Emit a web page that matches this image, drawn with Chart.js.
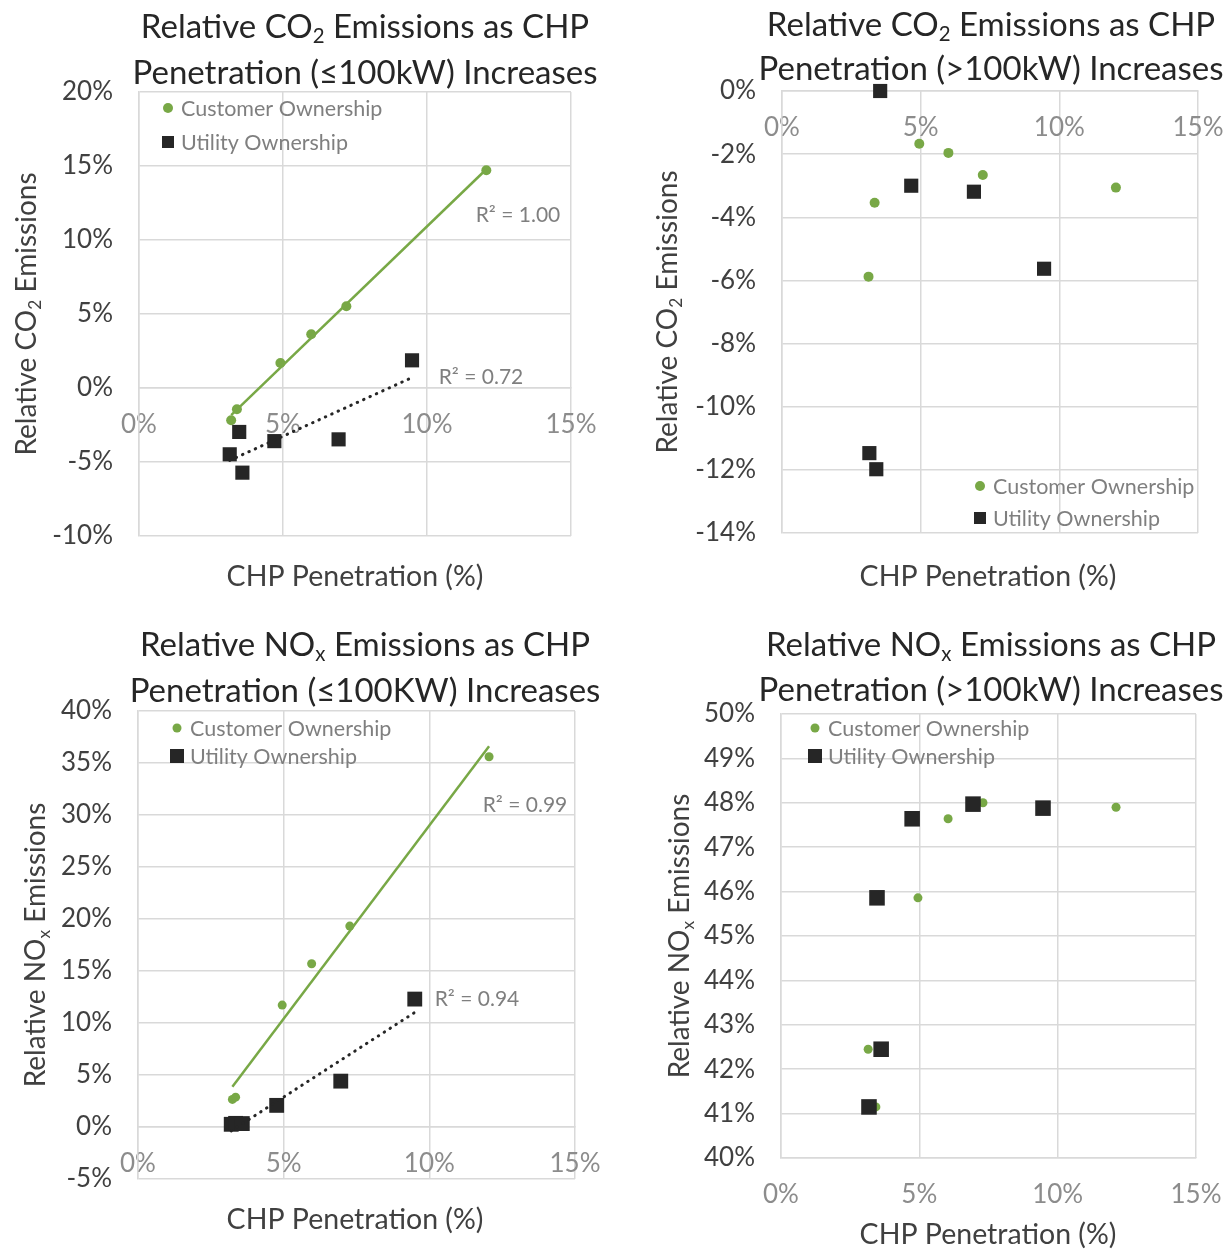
<!DOCTYPE html>
<html>
<head>
<meta charset="utf-8">
<script src="https://cdn.jsdelivr.net/npm/chart.js@4.4.1/dist/chart.umd.min.js"></script>
<style>
  body { margin: 0; background: #fff; width: 1230px; height: 1249px; position: relative; overflow: hidden; }
  canvas { position: absolute; }
</style>
</head>
<body>
<canvas id="co2Small" width="615" height="610" style="left:0;top:0"></canvas>
<canvas id="co2Large" width="615" height="610" style="left:615px;top:0"></canvas>
<canvas id="noxSmall" width="615" height="639" style="left:0;top:610px"></canvas>
<canvas id="noxLarge" width="615" height="639" style="left:615px;top:610px"></canvas>
<script>
// CO2, <=100kW
const co2SmallCustX = [3.20, 3.40, 4.91, 5.98, 7.20, 12.06];
const co2SmallCustY = [-2.18, -1.44, 1.69, 3.63, 5.52, 14.71];
const co2SmallUtilX = [3.15, 3.48, 3.59, 4.70, 6.93, 9.48];
const co2SmallUtilY = [-4.48, -2.97, -5.72, -3.59, -3.47, 1.87];
// CO2, >100kW
const co2LargeCustX = [3.12, 3.34, 4.95, 6.00, 7.24, 12.04];
const co2LargeCustY = [-5.88, -3.54, -1.67, -1.96, -2.66, -3.06];
const co2LargeUtilX = [3.54, 3.15, 3.40, 4.66, 6.92, 9.45];
const co2LargeUtilY = [0.0, -11.47, -11.98, -3.00, -3.19, -5.63];
// NOx, <=100kW
const noxSmallCustX = [3.24, 3.35, 4.95, 5.96, 7.27, 12.05];
const noxSmallCustY = [2.65, 2.87, 11.72, 15.7, 19.32, 35.6];
const noxSmallUtilX = [3.20, 3.35, 3.58, 4.76, 6.96, 9.50];
const noxSmallUtilY = [0.26, 0.35, 0.33, 2.08, 4.41, 12.30];
// NOx, >100kW
const noxLargeCustX = [3.15, 3.43, 4.95, 6.04, 7.30, 12.11];
const noxLargeCustY = [42.45, 41.15, 45.86, 47.64, 48.0, 47.9];
const noxLargeUtilX = [3.18, 3.62, 3.47, 4.74, 6.94, 9.47];
const noxLargeUtilY = [41.15, 42.45, 45.86, 47.64, 47.97, 47.88];

const xTicks = [0, 15, 5];          // min, max, step
const seriesNames = ['Customer Ownership', 'Utility Ownership'];
const r2Labels = ['R² = 1.00', 'R² = 0.72', 'R² = 0.99', 'R² = 0.94'];

const FONT = 'Lato, "Open Sans", sans-serif';
const GREEN = '#78a846';
const BLACK = '#262626';
const GRID = '#d9d9d9';

function pts(xs, ys) {
  return xs.map((x, i) => ({x: x, y: ys[i]}));
}

// least squares trendline between the smallest and largest x
function trend(xs, ys) {
  const n = xs.length;
  const mx = xs.reduce((a, b) => a + b, 0) / n;
  const my = ys.reduce((a, b) => a + b, 0) / n;
  let sxy = 0, sxx = 0;
  for (let i = 0; i < n; i++) {
    sxy += (xs[i] - mx) * (ys[i] - my);
    sxx += (xs[i] - mx) * (xs[i] - mx);
  }
  const b = sxy / sxx, a = my - b * mx;
  const lo = Math.min(...xs), hi = Math.max(...xs);
  return [{x: lo, y: a + b * lo}, {x: hi, y: a + b * hi}];
}

function drawRich(ctx, it, area) {
  const size = it.size;
  let total = 0;
  const segs = it.parts.map(p => {
    const s = {t: p[0], sub: !!p[1]};
    ctx.font = (s.sub ? size * 0.62 : size) + 'px ' + FONT;
    s.w = ctx.measureText(s.t).width;
    total += s.w;
    return s;
  });
  ctx.save();
  ctx.translate(it.x, it.y === 'mid' ? (area.top + area.bottom) / 2 : it.y);
  if (it.rotate) ctx.rotate(it.rotate);
  let x = it.align === 'left' ? 0 : -total / 2;
  ctx.fillStyle = it.color;
  ctx.textBaseline = 'middle';
  ctx.textAlign = 'left';
  segs.forEach(s => {
    ctx.font = (s.sub ? size * 0.62 : size) + 'px ' + FONT;
    ctx.fillText(s.t, x, s.sub ? size * 0.3 : 0);
    x += s.w;
  });
  ctx.restore();
}

const richText = {
  id: 'richText',
  afterDraw(chart, args, opts) {
    const ctx = chart.ctx;
    (opts.texts || []).forEach(it => drawRich(ctx, it, chart.chartArea));
    (opts.legend || []).forEach(l => {
      ctx.save();
      ctx.fillStyle = l.color;
      if (l.style === 'circle') {
        ctx.beginPath();
        ctx.arc(l.x, l.y, l.size / 2, 0, Math.PI * 2);
        ctx.fill();
      } else {
        ctx.fillRect(l.x - l.size / 2, l.y - l.size / 2, l.size, l.size);
      }
      ctx.fillStyle = '#7f7f7f';
      ctx.font = '21.5px ' + FONT;
      ctx.textBaseline = 'middle';
      ctx.fillText(l.label, l.x + 13, l.y + 1);
      ctx.restore();
    });
  }
};

function makeChart(id, c) {
  const canvas = document.getElementById(id);
  const datasets = [];
  if (c.trends) {
    datasets.push({type: 'line', data: trend(c.custX, c.custY), borderColor: GREEN, borderWidth: 2.5,
      pointRadius: 0, fill: false, order: 0});
    datasets.push({type: 'line', data: trend(c.utilX, c.utilY), borderColor: BLACK, borderWidth: 3,
      borderDash: [0.5, 6.5], borderCapStyle: 'round', pointRadius: 0, fill: false, order: 0});
  }
  datasets.push({label: seriesNames[1], data: pts(c.utilX, c.utilY), pointStyle: 'rect',
    pointRadius: c.sq, backgroundColor: BLACK, borderWidth: 0, clip: false, order: 1});
  datasets.push({label: seriesNames[0], data: pts(c.custX, c.custY), pointStyle: 'circle',
    pointRadius: c.dot, backgroundColor: GREEN, borderWidth: 0, clip: false, order: 2});

  return new Chart(canvas, {
    type: 'scatter',
    data: {datasets: datasets},
    plugins: [richText],
    options: {
      responsive: false,
      animation: false,
      layout: {padding: {left: 0, top: c.area[1], right: canvas.width - c.area[2], bottom: canvas.height - c.area[3]}},
      plugins: {
        legend: {display: false},
        tooltip: {enabled: false},
        richText: {texts: c.texts, legend: c.legend}
      },
      scales: {
        x: {
          type: 'linear', position: {y: c.xAt},
          min: xTicks[0], max: xTicks[1],
          afterFit: s => { s.paddingLeft = 0; s.paddingRight = 0; },
          ticks: {stepSize: xTicks[2], padding: 21, color: '#8c8c8c', font: {family: FONT, size: 26},
            callback: v => v + '%'},
          grid: {color: GRID, lineWidth: 1.5, drawTicks: false},
          border: {color: GRID, width: 1.5}
        },
        y: {
          type: 'linear', position: 'left',
          min: c.y[0], max: c.y[1],
          afterFit: s => { s.width = c.area[0]; s.paddingTop = 0; s.paddingBottom = 0; },
          ticks: {stepSize: c.y[2], padding: 26, color: '#404040', font: {family: FONT, size: 26},
            callback: v => v + '%'},
          grid: {color: GRID, lineWidth: 1.5, drawTicks: false},
          border: {color: GRID, width: 1.5}
        }
      }
    }
  });
}

function title(lines, cx, y1, y2) {
  return [
    {parts: lines[0], x: cx, y: y1, size: 33, color: '#262626'},
    {parts: lines[1], x: cx, y: y2, size: 33, color: '#262626'}
  ];
}
function axisTitles(yParts, yx, cx, xy) {
  return [
    {parts: yParts, x: yx, y: 'mid', size: 28, color: '#404040', rotate: -Math.PI / 2},
    {parts: [['CHP Penetration (%)']], x: cx, y: xy, size: 28.5, color: '#404040'}
  ];
}
function legendAt(x, y1, y2, dot, sq) {
  return [
    {label: seriesNames[0], x: x, y: y1, style: 'circle', color: GREEN, size: dot},
    {label: seriesNames[1], x: x, y: y2, style: 'rect', color: BLACK, size: sq}
  ];
}

const co2Parts = [['Relative CO'], ['2', 1], [' Emissions as CHP']];
const noxParts = [['Relative NO'], ['x', 1], [' Emissions as CHP']];
const co2Axis = [['Relative CO'], ['2', 1], [' Emissions']];
const noxAxis = [['Relative NO'], ['x', 1], [' Emissions']];

makeChart('co2Small', {
  custX: co2SmallCustX, custY: co2SmallCustY, utilX: co2SmallUtilX, utilY: co2SmallUtilY,
  trends: true, y: [-10, 20, 5], xAt: 0, area: [139, 92, 571, 536], dot: 5, sq: 10,
  texts: title([co2Parts, [['Penetration (≤100kW) Increases']]], 365, 27, 73)
    .concat(axisTitles(co2Axis, 27, 355, 577))
    .concat([{parts: [[r2Labels[0]]], x: 518, y: 215, size: 21, color: '#7f7f7f'},
             {parts: [[r2Labels[1]]], x: 481, y: 377, size: 21, color: '#7f7f7f'}]),
  legend: legendAt(168, 108, 142, 10, 12)
});

makeChart('co2Large', {
  custX: co2LargeCustX, custY: co2LargeCustY, utilX: co2LargeUtilX, utilY: co2LargeUtilY,
  trends: false, y: [-14, 0, 2], xAt: 0, area: [167, 91, 583, 533], dot: 5, sq: 10,
  texts: title([co2Parts, [['Penetration (>100kW) Increases']]], 376, 25, 69)
    .concat(axisTitles(co2Axis, 53, 373, 577)),
  legend: legendAt(365, 486, 518, 10, 12)
});

makeChart('noxSmall', {
  custX: noxSmallCustX, custY: noxSmallCustY, utilX: noxSmallUtilX, utilY: noxSmallUtilY,
  trends: true, y: [-5, 40, 5], xAt: 0, area: [138, 101, 575, 569], dot: 4.5, sq: 10.5,
  texts: title([noxParts, [['Penetration (≤100KW) Increases']]], 365, 35, 81)
    .concat(axisTitles(noxAxis, 36, 355, 610))
    .concat([{parts: [[r2Labels[2]]], x: 525, y: 195, size: 21, color: '#7f7f7f'},
             {parts: [[r2Labels[3]]], x: 477, y: 389, size: 21, color: '#7f7f7f'}]),
  legend: legendAt(177, 118, 146, 9, 14)
});

makeChart('noxLarge', {
  custX: noxLargeCustX, custY: noxLargeCustY, utilX: noxLargeUtilX, utilY: noxLargeUtilY,
  trends: false, y: [40, 50, 1], xAt: 40, area: [166, 104, 581, 548], dot: 4.5, sq: 11,
  texts: title([noxParts, [['Penetration (>100kW) Increases']]], 376, 35, 80)
    .concat(axisTitles(noxAxis, 65, 373, 625)),
  legend: legendAt(200, 118, 146, 9, 14)
});
</script>
</body>
</html>
